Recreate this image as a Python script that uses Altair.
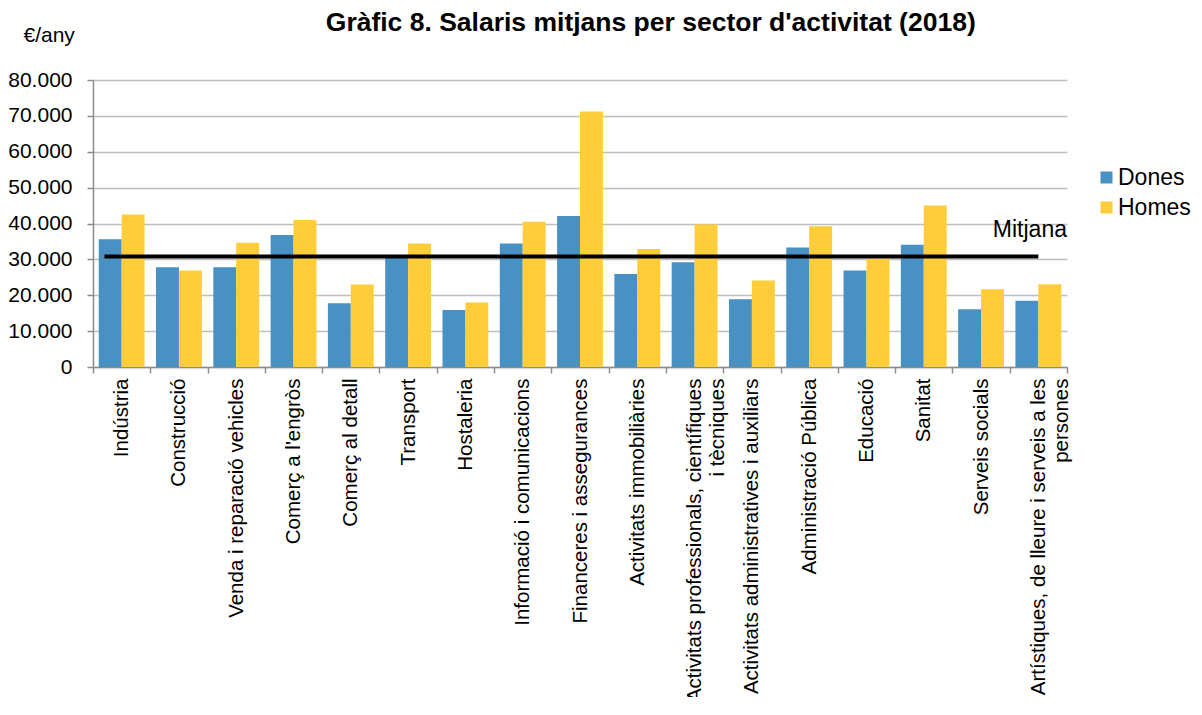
import altair as alt
import pandas as pd

NB = "\u00a0"

# ---- data ----
sectors = [
    "Indústria",
    "Construcció",
    "Venda i reparació vehicles",
    "Comerç a l'engròs",
    "Comerç al detall",
    "Transport",
    "Hostaleria",
    "Informació i comunicacions",
    "Financeres i assegurances",
    "Activitats immobiliàries",
    "Activitats professionals, científiques\ni tècniques" + NB * 20,
    "Activitats administratives i auxiliars",
    "Administració Pública",
    "Educació",
    "Sanitat",
    "Serveis socials",
    "Artístiques, de lleure i serveis a les\npersones" + NB * 20,
]
dones = [35600, 27800, 27800, 36800, 17800, 30700, 15900, 34400, 42100,
         25900, 29200, 18900, 33300, 26900, 34100, 16100, 18500]
homes = [42500, 26900, 34600, 41000, 23000, 34400, 18000, 40500, 71200,
         32900, 39700, 24100, 39200, 30200, 45000, 21700, 23100]
series = ["Dones", "Homes"]
series_colors = ["#4A91C3", "#FFCD39"]
mitjana = 30800
y_ticks = [0, 10000, 20000, 30000, 40000, 50000, 60000, 70000, 80000]

title_text = "Gràfic 8. Salaris mitjans per sector d'activitat (2018)"
y_unit = "€/any"
mean_label = "Mitjana"

# ---- tables ----
rows = []
for s, d, h in zip(sectors, dones, homes):
    rows.append({"sector": s, "sexe": "Dones", "valor": d})
    rows.append({"sector": s, "sexe": "Homes", "valor": h})
df = pd.DataFrame(rows)

mean_df = pd.DataFrame({"inici": [sectors[0]], "fi": [sectors[-1]], "mitjana": [mitjana]})
label_df = pd.DataFrame({"sector": [sectors[-1]], "y": [36300], "text": [mean_label]})

FONT = "Liberation Sans"
axis_gray = "#8C8C8C"
grid_gray = "#BFBFBF"
LABEL_SIZE = 20.5

xscale = alt.Scale(domain=sectors, paddingInner=0, paddingOuter=0)
yscale = alt.Scale(domain=[0, 80000], nice=False)

x_axis = alt.Axis(
    title=None,
    labelAngle=-90,
    labelExpr="split(datum.label, '\\n')",
    tickBand="extent",
    tickSize=6,
    tickColor=axis_gray,
    tickWidth=1.5,
    domainColor=axis_gray,
    domainWidth=1.5,
    labelPadding=5,
    labelFontSize=LABEL_SIZE,
    labelColor="black",
    labelLimit=0,
    labelLineHeight=23,
    grid=False,
)

y_axis = alt.Axis(
    title=y_unit,
    titleAngle=0,
    titleX=-70,
    titleY=-39,
    titleAlign="left",
    titleBaseline="alphabetic",
    titleFontWeight="normal",
    titleFontSize=21,
    titleColor="black",
    values=y_ticks,
    tickCount=len(y_ticks) + 1,
    labelExpr="replace(format(datum.value, ','), ',', '.')",
    labelOverlap=False,
    labelFontSize=21,
    labelColor="black",
    labelPadding=15,
    tickSize=6,
    tickColor=axis_gray,
    tickWidth=1.5,
    domainColor=axis_gray,
    domainWidth=1.5,
    gridColor=grid_gray,
    gridWidth=1.5,
)

bars = alt.Chart(df).mark_bar().encode(
    x=alt.X("sector:N", scale=xscale, axis=x_axis),
    xOffset=alt.XOffset("sexe:N", scale=alt.Scale(domain=series, paddingOuter=0.25, paddingInner=0)),
    y=alt.Y("valor:Q", scale=yscale, axis=y_axis),
    color=alt.Color(
        "sexe:N",
        scale=alt.Scale(domain=series, range=series_colors),
        legend=alt.Legend(
            title=None,
            orient="none",
            legendX=1002,
            legendY=86,
            symbolType="square",
            symbolSize=144,
            symbolStrokeWidth=0,
            labelFontSize=23,
            labelColor="black",
            rowPadding=6,
            labelOffset=0,
        ),
    ),
)

rule = alt.Chart(mean_df).mark_rule(color="black", strokeWidth=4).encode(
    x=alt.X("inici:N", bandPosition=0.2, axis=x_axis),
    x2="fi:N",
    y=alt.Y("mitjana:Q", axis=y_axis),
)

label = alt.Chart(label_df).mark_text(
    align="right", baseline="alphabetic", fontSize=23, color="black"
).encode(
    x=alt.X("sector:N", bandPosition=1, axis=x_axis),
    y=alt.Y("y:Q", axis=y_axis),
    text="text:N",
)

chart = alt.layer(bars, rule, label).properties(
    width=974,
    height=287,
    padding={"left": 85, "top": 72, "right": 127, "bottom": 330},
    autosize=alt.AutoSizeParams(type="none"),
    title=alt.Title(
        title_text,
        anchor="start",
        dx=318,
        offset=-12,
        fontSize=26.5,
        fontWeight="bold",
        color="black",
    ),
).configure(font=FONT, view=alt.ViewConfig(stroke=None))

chart.save("out.html", embed_options={"renderer": "svg", "actions": False})
